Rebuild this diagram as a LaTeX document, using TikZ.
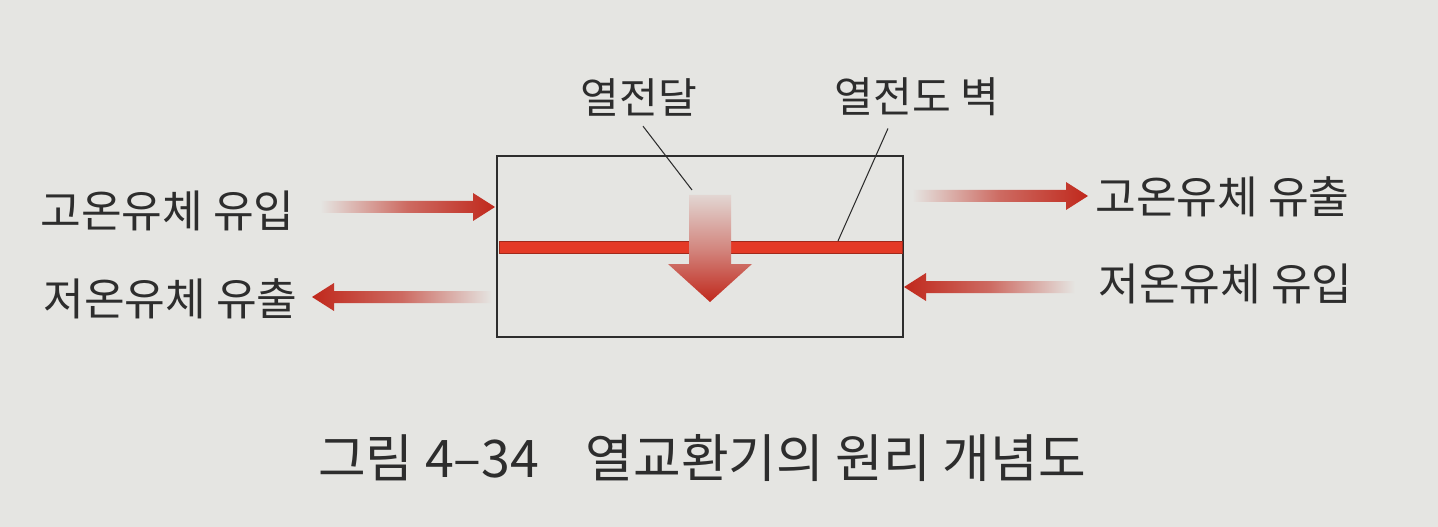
\documentclass[tikz,border=0pt]{standalone}
\usepackage{fontspec}
\usepackage{tikz}
\usetikzlibrary{calc}
\newfontfamily\krfont{Noto Sans CJK KR}
\definecolor{paper}{RGB}{229,229,226}
\definecolor{ink}{RGB}{45,45,45}
\definecolor{flowred}{RGB}{192,40,28}
\definecolor{wallred}{RGB}{228,58,38}
\tikzstyle{flowtext}=[text=ink, inner sep=0pt, font=\krfont\fontsize{25.2}{30}\selectfont]
\tikzstyle{walltext}=[text=ink, inner sep=0pt, font=\krfont\fontsize{24}{29}\selectfont]
\tikzstyle{leader}=[ink, line width=0.6pt]
\newcommand{\flow}[5]{% tail x, tip x, y, left colour, right colour
  \pgfmathsetmacro\hb{#2-22*sign(#2-#1)}
  \shade[left color=#4, right color=#5, middle color=flowred!65!paper]
    (#1,#3-6) -- (\hb,#3-6) -- (\hb,#3-14) -- (#2,#3) -- (\hb,#3+14) -- (\hb,#3+6) -- (#1,#3+6) -- cycle;}

\begin{document}
\begin{tikzpicture}[x=0.02cm, y=-0.02cm]
    \fill[paper] (0,0) rectangle (1438,527);
    \useasboundingbox (0,0) rectangle (1438,527);
    % exchanger and wall
    \draw[ink, line width=0.8pt] (497,156) rectangle (903,337);
    \draw[wallred!70!black, fill=wallred, line width=0.4pt] (499,241) rectangle (902,253);
    % heat through the wall
    \shade[top color=flowred!8!paper, bottom color=flowred, middle color=flowred!50!paper]
    (689,195) -- (731,195) -- (731,264) -- (752,264) -- (710,302) -- (668,264) -- (689,264) -- cycle;
    % flows
    \flow{320}{495}{207}{paper}{flowred}
    \flow{492}{312}{297}{flowred}{paper}
    \flow{912}{1088}{196}{paper}{flowred}
    \flow{1075}{904}{287}{flowred}{paper}
    % labels
    \node[flowtext, anchor=west] (hotin) at (40,211) {고온유체 유입};
    \node[flowtext, anchor=west] (coldout) at (43,299) {저온유체 유출};
    \node[flowtext, anchor=west] (hotout) at (1095,197) {고온유체 유출};
    \node[flowtext, anchor=west] (coldin) at (1098,284) {저온유체 유입};
    \node[walltext] (heat) at (639,97) {열전달};
    \node[walltext] (wall) at (917,97) {열전도 벽};
    \coordinate (heattip) at (692,190);
    \coordinate (walltop) at (838,241);
    \draw[leader] ($(heat.south)+(4,10)$) -- (heattip);
    \draw[leader] ($(wall.south)+(-29,12)$) -- (walltop);
    \node[text=ink, font=\krfont\fontsize{29.5}{35}\selectfont] (caption) at (702,458)
    {그림 4–34\hspace{0.9em}열교환기의 원리 개념도};
\end{tikzpicture}
\end{document}
